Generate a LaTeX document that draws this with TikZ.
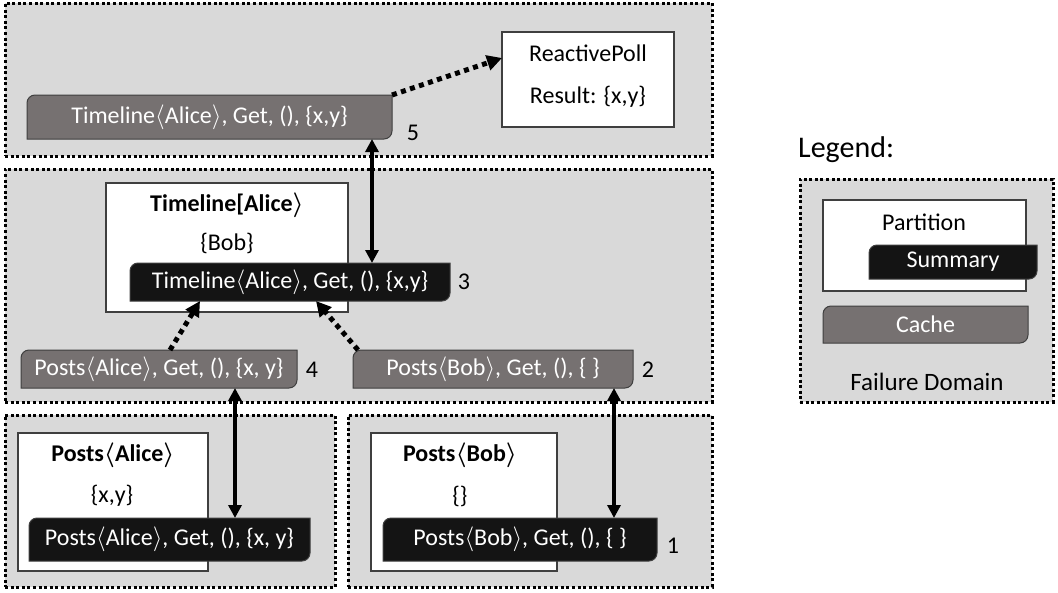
\documentclass[tikz,border=0pt]{standalone}
\usepackage{fontspec}
\setmainfont{Carlito}
\usetikzlibrary{arrows.meta}
\pgfdeclarelayer{dom}
\pgfdeclarelayer{part}
\pgfdeclarelayer{shapes}
\pgfsetlayers{dom,part,shapes,main}
\definecolor{domgray}{HTML}{D9D9D9}
\definecolor{cachegray}{HTML}{767171}
\definecolor{sumblack}{HTML}{141414}
\definecolor{edgegray}{HTML}{3F3F3F}
\newcommand\lan{\iffontchar\font"27E8 \symbol{"27E8}\else$\langle$\fi}
\newcommand\ran{\iffontchar\font"27E9 \symbol{"27E9}\else$\rangle$\fi}
\newcommand\diagshape[2]{\begin{pgfonlayer}{shapes}\path[#2] ([yshift=-8pt]#1.north west) arc[start angle=180,end angle=90,radius=8pt] -- (#1.north east) -- ([yshift=8pt]#1.south east) arc[start angle=0,end angle=-90,radius=8pt] -- (#1.south west) -- cycle;\end{pgfonlayer}}
\tikzset{
 faildom/.style={draw=black, fill=domgray, line width=3pt, dash pattern=on 3pt off 2.6pt, inner sep=0, outer sep=0, anchor=north west},
 partbox/.style={draw=edgegray, fill=white, line width=1.1pt, inner sep=0, outer sep=0, anchor=north west},
 slot/.style={inner sep=0, outer sep=0, anchor=north west, text=white, font=\fontsize{24}{28}\selectfont},
 cachefill/.style={fill=cachegray, draw=edgegray, line width=1pt},
 sumfill/.style={fill=sumblack, draw=edgegray, line width=1pt},
 txt/.style={inner sep=0, font=\fontsize{24}{28}\selectfont},
 ttl/.style={inner sep=0, font=\fontsize{24}{28}\selectfont\bfseries\boldmath},
 num/.style={inner sep=0, font=\fontsize{24}{28}\selectfont},
 dotarrow/.style={line width=5pt, dash pattern=on 5pt off 4.5pt, -{Triangle[length=15pt,width=15pt]}},
 bothway/.style={line width=3.5pt, {Triangle[length=13pt,width=13pt]}-{Triangle[length=13pt,width=13pt]}},
}
\begin{document}
\begin{tikzpicture}[x=1pt,y=-1pt]
\useasboundingbox (0,0) rectangle (1058,592);
% failure domains
\begin{pgfonlayer}{dom}
\node[faildom, minimum width=707pt, minimum height=153pt] (d1) at (5,3) {};
\node[faildom, minimum width=707pt, minimum height=233pt] (d2) at (5,169) {};
\node[faildom, minimum width=330pt, minimum height=172pt] (d3) at (5,415) {};
\node[faildom, minimum width=364pt, minimum height=172pt] (d4) at (348,415) {};
\node[faildom, minimum width=253pt, minimum height=223pt] (d5) at (800,179) {};
\end{pgfonlayer}
% partitions
\begin{pgfonlayer}{part}
\node[partbox, minimum width=172pt, minimum height=95pt] (rp) at (502,32) {};
\node[partbox, minimum width=242pt, minimum height=129pt] (pt) at (106,183) {};
\node[partbox, minimum width=190pt, minimum height=138pt] (pa) at (18,433) {};
\node[partbox, minimum width=186pt, minimum height=138pt] (pb) at (371,433) {};
\node[partbox, minimum width=203pt, minimum height=91pt] (lp) at (823,200) {};
\end{pgfonlayer}
% partition texts
\node[txt] (rpt) at (588,53) {ReactivePoll};
\node[txt] (rpr) at (588,97) {Result: \{x,y\}};
\node[ttl] (ptt) at (227,205) {Timeline[Alice\ran};
\node[txt] (ptb) at (227,243) {\{Bob\}};
\node[ttl] (pat) at (113,455) {Posts\lan Alice\ran};
\node[txt] (pab) at (112,496) {\{x,y\}};
\node[ttl] (pbt) at (460,455) {Posts\lan Bob\ran};
\node[txt] (pbb) at (460,496) {\{\}};
% caches and summaries
\node[slot, minimum width=365pt, minimum height=44pt] (c5) at (27,95) {Timeline\lan Alice\ran, Get, (), \{x,y\}};
\diagshape{c5}{cachefill}
\node[slot, minimum width=320pt, minimum height=38pt] (s3) at (130,263) {Timeline\lan Alice\ran, Get, (), \{x,y\}};
\diagshape{s3}{sumfill}
\node[slot, minimum width=276pt, minimum height=38pt] (c4) at (21,350) {Posts\lan Alice\ran, Get, (), \{x, y\}};
\diagshape{c4}{cachefill}
\node[slot, minimum width=280pt, minimum height=38pt] (c2) at (353,350) {Posts\lan Bob\ran, Get, (), \{ \}};
\diagshape{c2}{cachefill}
\node[slot, minimum width=281pt, minimum height=43pt] (sa) at (29,518) {Posts\lan Alice\ran, Get, (), \{x, y\}};
\diagshape{sa}{sumfill}
\node[slot, minimum width=274pt, minimum height=43pt] (sb) at (383,518) {Posts\lan Bob\ran, Get, (), \{ \}};
\diagshape{sb}{sumfill}
% numbers
\node[num] (n5) at (413,133) {5};
\node[num] (n3) at (464,282) {3};
\node[num] (n4) at (312,370) {4};
\node[num] (n2) at (648,370) {2};
\node[num] (n1) at (673,546) {1};
% legend
\node[inner sep=0, anchor=base west, font=\fontsize{30}{34}\selectfont] (lg) at (798,157) {Legend:};
\node[txt] (lpt) at (924,222) {Partition};
\node[slot, minimum width=168pt, minimum height=34pt] (ls) at (869,245) {Summary};
\diagshape{ls}{sumfill}
\node[slot, minimum width=205pt, minimum height=37pt] (lc) at (823,306) {Cache};
\diagshape{lc}{cachefill}
\node[txt, font=\fontsize{25}{30}\selectfont] (lfd) at (927,382) {Failure Domain};
% connectors
\draw[dotarrow] (c5.north east) -- ([yshift=-26pt]rp.north west);
\draw[bothway] ([xshift=-20pt]c5.south east) -- ([xshift=-20pt]c5.south east |- s3.north);
\draw[dotarrow] ([xshift=149pt]c4.north west) -- ([xshift=70pt]s3.south west);
\draw[dotarrow] ([xshift=5pt]c2.north west) -- ([xshift=186pt]s3.south west);
\draw[bothway] ([xshift=-62pt]c4.south east) -- ([xshift=-62pt]c4.south east |- sa.north);
\draw[bothway] ([xshift=-19pt]c2.south east) -- ([xshift=-19pt]c2.south east |- sb.north);
\end{tikzpicture}
\end{document}
